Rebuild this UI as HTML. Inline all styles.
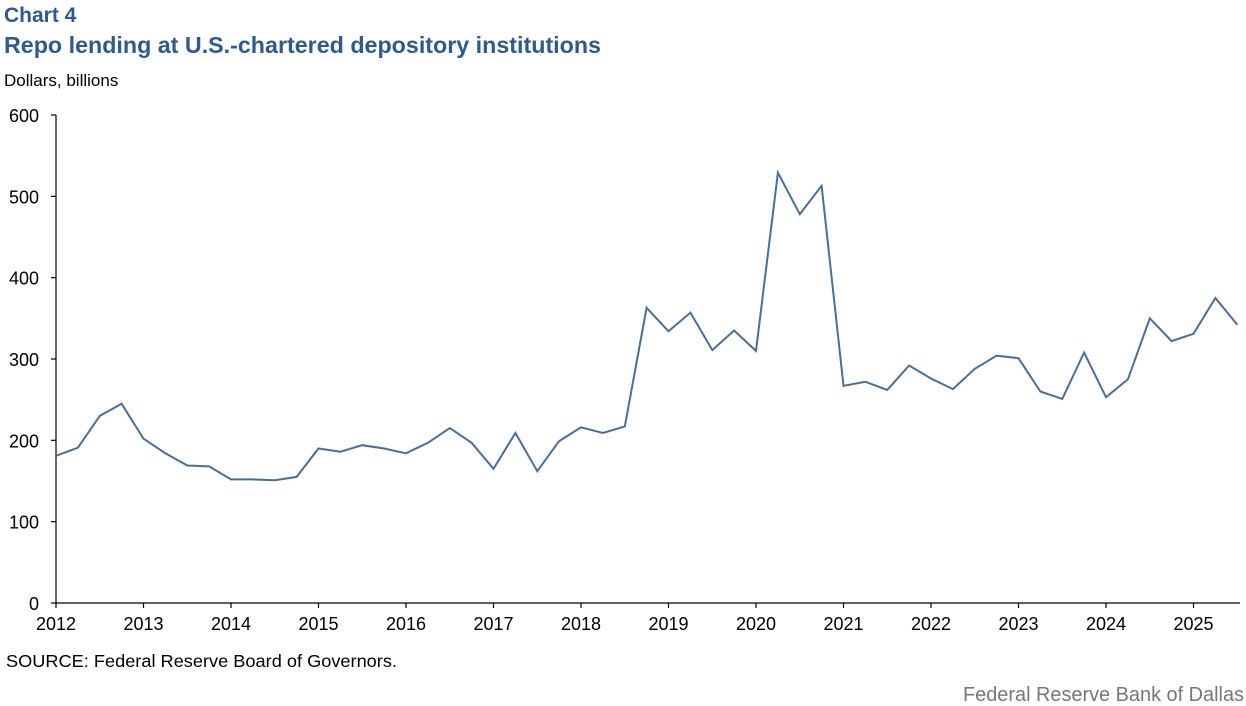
<!DOCTYPE html>
<html><head><meta charset="utf-8"><style>
html,body{margin:0;padding:0;background:#fff;width:1246px;height:706px;overflow:hidden}
svg{display:block}
text{font-family:"Liberation Sans",Arial,sans-serif}
</style></head><body>
<svg id="s" width="1246" height="706" xmlns="http://www.w3.org/2000/svg">
<text x="4" y="22" font-size="21" font-weight="bold" fill="#2f5a8a">Chart 4</text>
<text x="4" y="53" font-size="23" font-weight="bold" fill="#2f5a8a" textLength="597" lengthAdjust="spacingAndGlyphs">Repo lending at U.S.-chartered depository institutions</text>
<text x="4" y="86" font-size="17" fill="#000">Dollars, billions</text>
<g id="ax" stroke="#000" stroke-width="1.2" fill="none"></g>
<g id="lab" font-size="18" fill="#000"></g>
<polyline id="ln" fill="none" stroke="#4a6f96" stroke-width="2" stroke-linejoin="miter"/>
<text x="6" y="667" font-size="17.5" fill="#000" textLength="391" lengthAdjust="spacingAndGlyphs">SOURCE: Federal Reserve Board of Governors.</text>
<text x="1244" y="701" font-size="20" fill="#777" text-anchor="end" textLength="281" lengthAdjust="spacingAndGlyphs">Federal Reserve Bank of Dallas</text>
</svg>
<script>
var x0=56,y0=603,yt=115,yr=87.5;
function X(t){return x0+(t-2012)*yr}
function Y(v){return y0-(y0-yt)*v/600}
var ax=document.getElementById('ax'),lab=document.getElementById('lab'),ns='http://www.w3.org/2000/svg';
function L(a,b,c,d){var e=document.createElementNS(ns,'line');e.setAttribute('x1',a);e.setAttribute('y1',b);e.setAttribute('x2',c);e.setAttribute('y2',d);ax.appendChild(e)}
function T(x,y,s,anc){var e=document.createElementNS(ns,'text');e.setAttribute('x',x);e.setAttribute('y',y);e.setAttribute('text-anchor',anc);e.textContent=s;lab.appendChild(e)}
L(x0,yt,x0,y0);L(x0,y0,1240,y0);
for(var v=0;v<=600;v+=100){var y=Y(v);L(x0-5,y,x0,y);T(39,y+7,v,'end')}
for(var t=2012;t<=2025;t++){var x=X(t);L(x,y0,x,y0+5);T(x,630,t,'middle')}
var d=[181,191,230,245,202,184,169,168,152,152,151,155,190,186,194,190,184,197,215,197,165,209,162,199,216,209,217,363,334,357,311,335,310,529,478,513,267,272,262,292,276,263,288,304,301,260,251,308,253,275,350,322,331,375,342];
var p=d.map(function(v,i){return X(2012+i/4).toFixed(1)+','+Y(v).toFixed(1)}).join(' ');
document.getElementById('ln').setAttribute('points',p);
</script>
</body></html>
